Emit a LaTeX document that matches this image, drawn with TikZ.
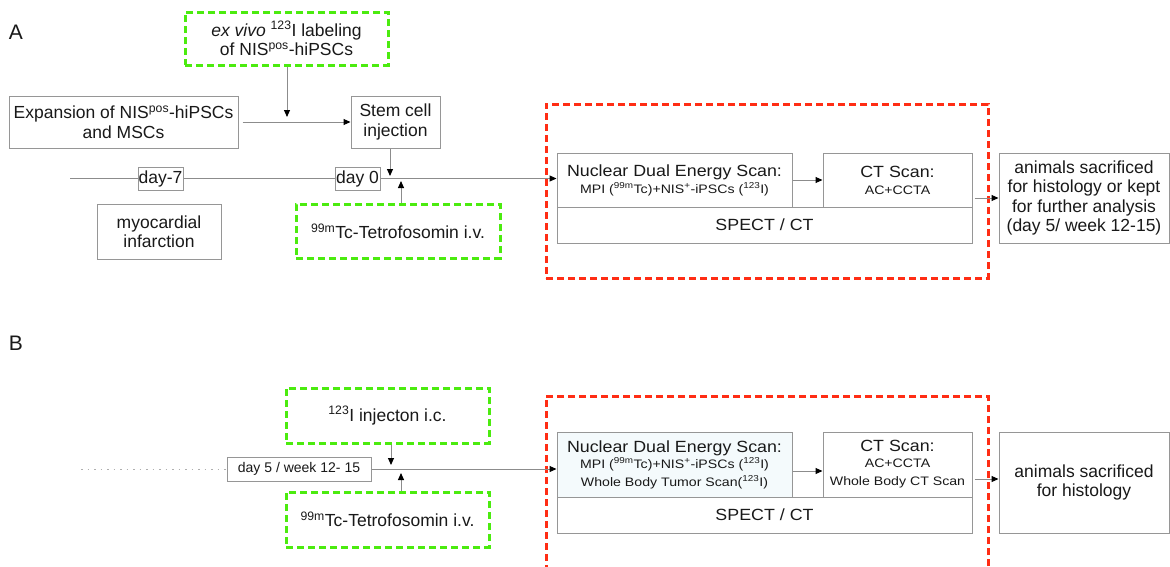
\documentclass[tikz,border=0pt]{standalone}
\usepackage{fontspec}
\setmainfont{Liberation Sans}
\newfontfamily\scanfont{Liberation Sans}[FakeStretch=1.1]
\newfontfamily\scanwide{Liberation Sans}[FakeStretch=1.15]
\usetikzlibrary{arrows.meta}
\definecolor{lgreen}{RGB}{75,235,15}
\definecolor{lred}{RGB}{255,45,20}
\definecolor{bordergray}{RGB}{150,150,150}
\definecolor{linegray}{RGB}{140,140,140}
\definecolor{txt}{RGB}{25,25,25}
\definecolor{nucfill}{RGB}{244,250,252}
\newcommand{\smallsz}{\scanwide\fontsize{12.3}{14}\selectfont}
\tikzset{
  box/.style={draw=bordergray, line width=1pt, fill=white, text=txt, inner sep=0pt, align=center, font=\fontsize{17.5}{19.5}\selectfont},
  scanbox/.style={box, font=\scanfont\fontsize{16.2}{18}\selectfont},
  gbox/.style={box, draw=lgreen, line width=3pt, dash pattern=on 7pt off 4pt},
  rbox/.style={draw=lred, line width=3pt, dash pattern=on 7pt off 4pt, inner sep=0pt},
  lbl/.style={text=txt, inner sep=0pt, font=\fontsize{21}{21}\selectfont},
  conn/.style={draw=linegray, line width=1pt, -{Triangle[length=7pt,width=6pt,black]}},
  plain/.style={draw=linegray, line width=1pt},
  dots/.style={draw=linegray!70, line width=1pt, dash pattern=on 1.5pt off 5pt},
}
\begin{document}
\begin{tikzpicture}[x=1pt,y=-1pt]
\clip (0,0) rectangle (1170,566);
\fill[white] (0,0) rectangle (1170,566);

% ---------------- Panel A ----------------
\node[lbl] (lA) at (16,32) {A};
\node[gbox, minimum width=203pt, minimum height=53pt] (exv) at (286.5,38.5)
  {\textit{ex vivo} \textsuperscript{123}I labeling\\of NIS\textsuperscript{pos}-hiPSCs};
\node[box, minimum width=229pt, minimum height=52pt] (expand) at (123.5,122)
  {Expansion of NIS\textsuperscript{pos}-hiPSCs\\and MSCs};
\node[box, minimum width=89pt, minimum height=52pt] (stem) at (395.5,122)
  {Stem cell\\injection};
\node[box, minimum width=45pt, minimum height=23pt] (day7) at (160.5,178.5) {day-7};
\node[box, minimum width=45pt, minimum height=23pt] (day0) at (357.5,178.5) {day 0};
\node[box, minimum width=124pt, minimum height=55pt] (myo) at (159,231.5)
  {myocardial\\infarction};
\node[gbox, minimum width=204pt, minimum height=54pt] (tcA) at (398,231)
  {\textsuperscript{99m}Tc-Tetrofosomin i.v.};

\node[rbox, minimum width=442pt, minimum height=174pt] (redA) at (767,191) {};
\node[scanbox, minimum width=235pt, minimum height=54pt] (nucA) at (674.5,180)
  {Nuclear Dual Energy Scan:\\[-1pt]\smallsz MPI (\textsuperscript{99m}Tc)+NIS\textsuperscript{+}-iPSCs (\textsuperscript{123}I)};
\node[scanbox, minimum width=149pt, minimum height=54pt] (ctA) at (897.5,180)
  {CT Scan:\\[-1pt]\smallsz AC+CCTA};
\node[scanbox, minimum width=415pt, minimum height=36pt] (spectA) at (764.5,225) {SPECT / CT};
\node[box, minimum width=170pt, minimum height=90pt] (animA) at (1084,198)
  {animals sacrificed\\for histology or kept\\for further analysis\\(day 5/ week 12-15)};

% connectors A
\coordinate (ed) at (287,117);
\draw[conn] (exv.south -| ed) -- (ed);
\draw[conn, shorten <=4pt] (expand.east) -- (stem.west);
\coordinate (tlA) at (70,178.5);
\draw[plain] (tlA) -- (day7.west);
\draw[plain] (day7.east) -- (day0.west);
\draw[conn] (day0.east) -- (nucA.west |- day0.east);
\coordinate (sd) at (390,176);
\draw[conn] (stem.south -| sd) -- (sd);
\coordinate (tu) at (401,181);
\draw[conn] (tcA.north -| tu) -- (tu);
\draw[conn] (nucA.east) -- (ctA.west);
\coordinate (aA) at (0,198);
\draw[conn, shorten <=2pt] (ctA.east |- aA) -- (animA.west |- aA);

% ---------------- Panel B ----------------
\node[lbl] (lB) at (16,343) {B};
\node[gbox, minimum width=203pt, minimum height=55pt] (injB) at (387.5,415.5)
  {\textsuperscript{123}I injecton i.c.};
\node[gbox, minimum width=203pt, minimum height=55pt] (tcB) at (387.5,519.5)
  {\textsuperscript{99m}Tc-Tetrofosomin i.v.};
\node[box, minimum width=144pt, minimum height=24pt, font=\fontsize{14}{16}\selectfont] (dayB) at (299,469)
  {day 5 / week 12- 15};

\node[rbox, minimum width=442pt, minimum height=190pt] (redB) at (767,491) {};
\node[scanbox, fill=nucfill, minimum width=235pt, minimum height=65pt] (nucB) at (674.5,464.5)
  {Nuclear Dual Energy Scan:\\[-2pt]\smallsz MPI (\textsuperscript{99m}Tc)+NIS\textsuperscript{+}-iPSCs (\textsuperscript{123}I)\\[0pt]\smallsz Whole Body Tumor Scan(\textsuperscript{123}I)};
\node[scanbox, minimum width=149pt, minimum height=65pt] (ctB) at (897.5,464.5)
  {CT Scan:\\[-2pt]\smallsz AC+CCTA\\[0pt]\smallsz Whole Body CT Scan};
\node[scanbox, minimum width=415pt, minimum height=36pt] (spectB) at (764.5,515) {SPECT / CT};
\node[box, minimum width=170pt, minimum height=101pt] (animB) at (1084,482.5)
  {animals sacrificed\\for histology};

% connectors B
\coordinate (tlB) at (81,469);
\draw[dots] (tlB) -- (dayB.west);
\draw[conn] (dayB.east) -- (nucB.west |- dayB.east);
\coordinate (idn) at (391,465);
\draw[conn] (injB.south -| idn) -- (idn);
\coordinate (tup) at (401,473);
\draw[conn] (tcB.north -| tup) -- (tup);
\coordinate (nb) at (0,471);
\draw[conn] (nucB.east |- nb) -- (ctB.west |- nb);
\coordinate (ab) at (0,479);
\draw[conn, shorten <=2pt] (ctB.east |- ab) -- (animB.west |- ab);
\end{tikzpicture}
\end{document}
